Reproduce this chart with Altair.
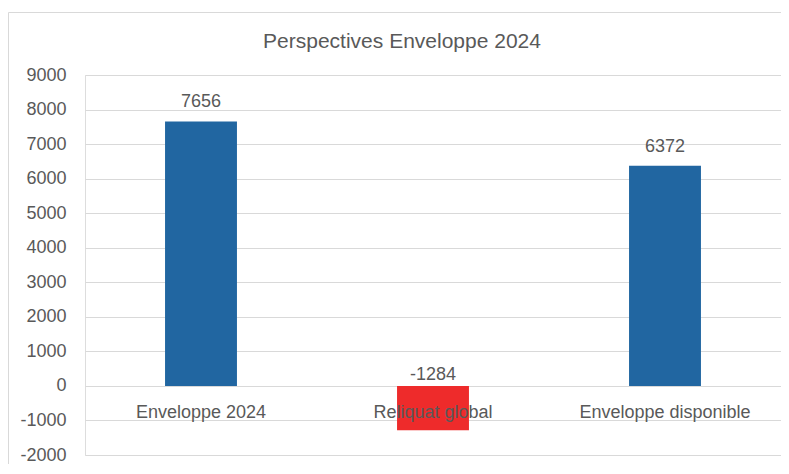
import altair as alt
import pandas as pd

categories = ["Enveloppe 2024", "Reliquat global", "Enveloppe disponible"]
values = [7656, -1284, 6372]
bar_colors = ["#2166A1", "#EE2B2B", "#2166A1"]
y_ticks = [-2000, -1000, 0, 1000, 2000, 3000, 4000, 5000, 6000, 7000, 8000, 9000]
title_text = ["Perspectives Enveloppe 2024"]

FONT = "Liberation Sans"
GREY = "#595959"
TOP = 67
H = 380
W = 696

df = pd.DataFrame({
    "cat": categories,
    "value": values,
    "color": bar_colors,
    "label": [str(v) for v in values],
    "zero": [0, 0, 0],
})

x = alt.X("cat:N", sort=categories,
          scale=alt.Scale(paddingInner=0.69, paddingOuter=0.345), axis=None)

yscale = alt.Scale(domain=[-2000, 9000], nice=False, zero=False)
yaxis = alt.Axis(values=y_ticks, labelExpr="'' + datum.value", labelOverlap=False,
                 title=None, grid=True, gridColor="#D9D9D9", gridWidth=1, domain=False,
                 ticks=False, labelPadding=19, labelFontSize=18,
                 labelColor=GREY, labelFont=FONT)


def make_y(field):
    return alt.Y(f"{field}:Q", scale=yscale, axis=yaxis, title=None)


base = alt.Chart(df)

bars = base.mark_bar().encode(
    x=x, y=make_y("value"), color=alt.Color("color:N", scale=None)
)

pos_labels = base.transform_filter("datum.value >= 0").mark_text(
    dy=-14, baseline="alphabetic", fontSize=18, font=FONT, color=GREY
).encode(x=x, y=make_y("value"), text="label:N")

neg_labels = base.transform_filter("datum.value < 0").mark_text(
    dy=-6, baseline="alphabetic", fontSize=18, font=FONT, color=GREY
).encode(x=x, y=make_y("zero"), text="label:N")

cat_labels = base.mark_text(
    dy=32, baseline="alphabetic", fontSize=18, font=FONT, color=GREY
).encode(x=x, y=make_y("zero"), text="cat:N")

title = alt.Chart(pd.DataFrame({"t": title_text})).mark_text(
    fontSize=21, font=FONT, color=GREY, baseline="alphabetic"
).encode(text="t:N", x=alt.value(317), y=alt.value(40 - TOP))

one = pd.DataFrame({"a": [0]})
border_top = alt.Chart(one).mark_rule(color="#D9D9D9", strokeWidth=1).encode(
    x=alt.value(-76.5), x2=alt.value(W + 4), y=alt.value(4.5 - TOP)
)
border_left = alt.Chart(one).mark_rule(color="#D9D9D9", strokeWidth=1).encode(
    x=alt.value(-76.5), y=alt.value(4.5 - TOP), y2=alt.value(H + 12)
)

chart = alt.layer(border_top, border_left, bars, pos_labels, neg_labels, cat_labels, title).properties(
    width=W, height=H,
    padding={"left": 77, "top": TOP, "right": 0, "bottom": 9},
    autosize=alt.AutoSizeParams(type="none"),
).configure_view(stroke=None).configure(background="white")

chart.save("out.html", embed_options={"renderer": "svg", "actions": False})
